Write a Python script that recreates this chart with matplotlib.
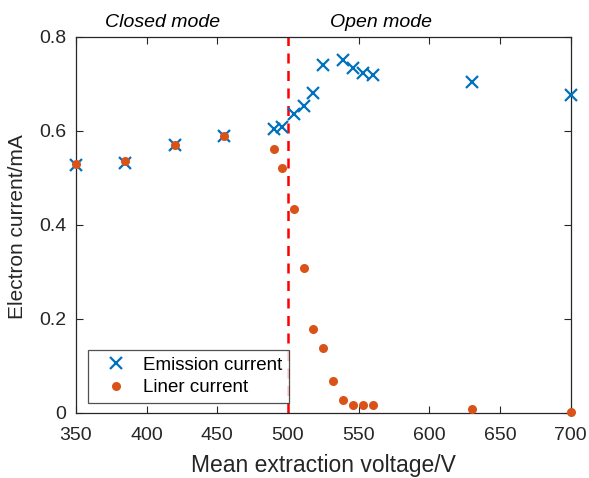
import numpy as np
import matplotlib.pyplot as plt
from matplotlib.ticker import FuncFormatter

plt.rcParams['font.family'] = ['Liberation Sans', 'DejaVu Sans']

# emission current (crosses)
em_v = [350, 385, 420, 455, 490, 496, 504, 511, 518, 525, 539, 546, 553, 560, 630, 700]
em_i = [0.528, 0.532, 0.570, 0.590, 0.604, 0.609, 0.636, 0.653, 0.680, 0.740,
        0.751, 0.733, 0.723, 0.718, 0.703, 0.677]

# liner current (dots)
ln_v = [350, 385, 420, 455, 490, 496, 504, 511, 518, 525, 532, 539, 546, 553, 560, 630, 700]
ln_i = [0.530, 0.535, 0.570, 0.590, 0.561, 0.522, 0.434, 0.309, 0.179, 0.139,
        0.068, 0.028, 0.018, 0.018, 0.018, 0.008, 0.003]

blue = '#0072BD'
orange = '#D95319'
dark = '#262626'

fig = plt.figure(figsize=(5.89, 4.78), dpi=100)
ax = fig.add_axes([0.129, 0.136, 0.840, 0.787])

ax.plot(em_v, em_i, 'x', color=blue, ms=9, mew=1.6, label='Emission current',
        zorder=3, clip_on=False)
ax.plot(ln_v, ln_i, 'o', color=orange, ms=6.5, mec='none', label='Liner current',
        zorder=4, clip_on=False)
ax.axvline(500, color='red', ls=(0, (4, 3)), lw=1.8, zorder=2)

ax.set_xlim(350, 700)
ax.set_ylim(0, 0.8)
ax.set_xticks(np.arange(350, 701, 50))
ax.set_yticks([0, 0.2, 0.4, 0.6, 0.8])
ax.yaxis.set_major_formatter(FuncFormatter(lambda v, p: '0' if v == 0 else f'{v:g}'))
ax.tick_params(direction='in', top=True, right=True, labelsize=14, length=5,
               color=dark, labelcolor=dark)
ax.tick_params(axis='x', pad=10)
ax.tick_params(axis='y', pad=7)
for s in ax.spines.values():
    s.set_color(dark)
    s.set_linewidth(0.9)

ax.set_xlabel('Mean extraction voltage/V', fontsize=16.5, color=dark)
ax.set_ylabel('Electron current/mA', fontsize=15, color=dark)
ax.xaxis.set_label_coords(0.5, -0.11)
ax.yaxis.set_label_coords(-0.1, 0.496)

ax.text(411.5, 0.83, 'Closed mode', style='italic', fontsize=14, ha='center', va='center')
ax.text(566, 0.83, 'Open mode', style='italic', fontsize=14, ha='center', va='center')

leg = ax.legend(loc='lower left', bbox_to_anchor=(0.024, 0.027), borderaxespad=0,
                fontsize=13.5, frameon=True, fancybox=False, edgecolor=dark,
                borderpad=0.35, handlelength=2.3, handletextpad=0.3, labelspacing=0.3)
leg.get_frame().set_linewidth(0.9)

fig.savefig('out.png', dpi=100)
